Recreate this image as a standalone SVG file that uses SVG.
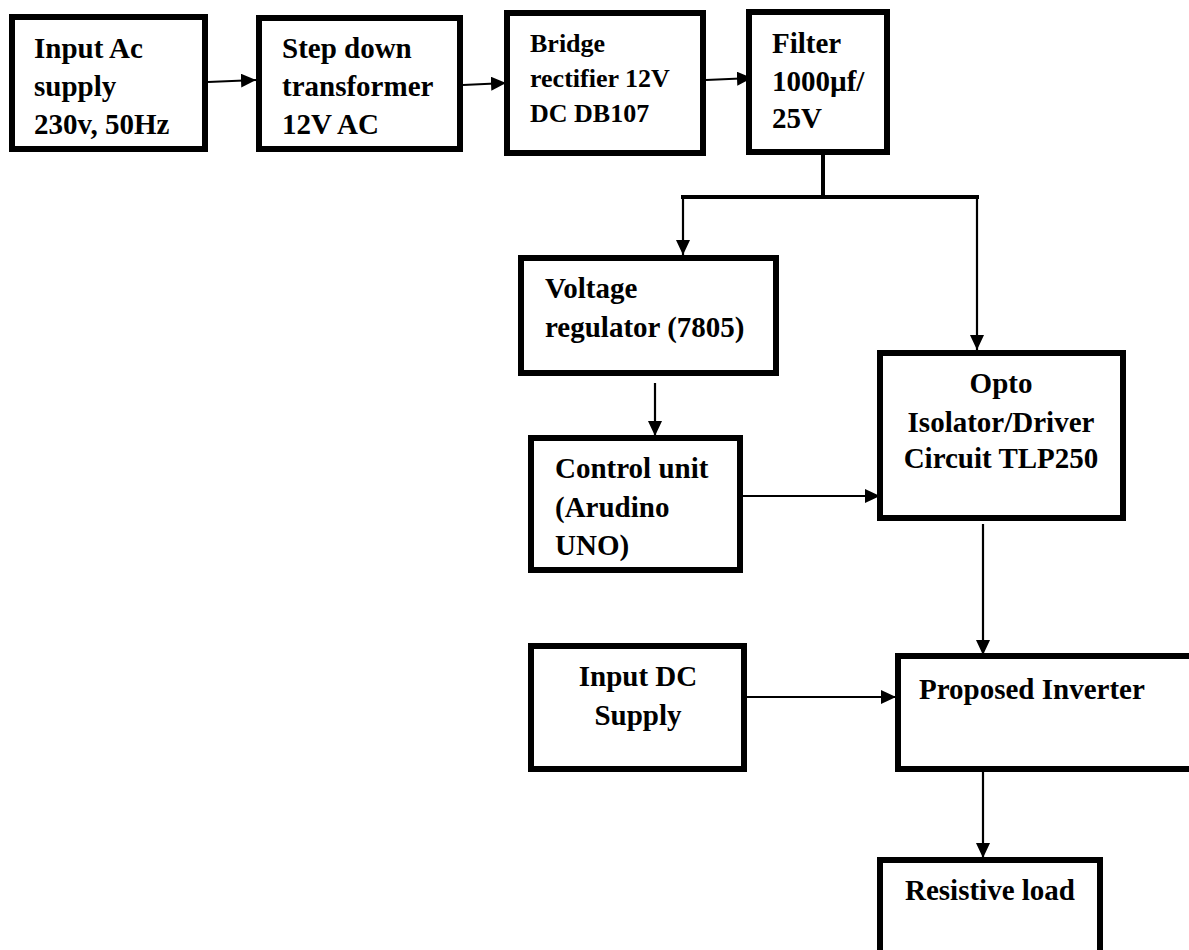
<svg xmlns="http://www.w3.org/2000/svg" width="1189" height="950" viewBox="0 0 1189 950">
  <style>
    .box { fill: #fff; stroke: #000; stroke-width: 6; }
    .lbl { font-family: "Liberation Serif", "Times New Roman", serif; font-weight: bold; font-size: 29px; fill: #000; }
    .sm { font-size: 26px; }
    .mid { text-anchor: middle; }
    .wire { fill: none; stroke: #000; stroke-width: 2.2; }
    .bus { fill: none; stroke: #000; stroke-width: 4; }
    .arr { marker-end: url(#head); }
  </style>
  <defs>
    <marker id="head" markerUnits="userSpaceOnUse" markerWidth="16" markerHeight="14" refX="15" refY="7" orient="auto">
      <path d="M0,0 L15,7 L0,14 Z" fill="#000"/>
    </marker>
  </defs>
  <rect width="1189" height="950" fill="#fff"/>

  <g id="connectors">
    <path class="wire arr" d="M208,82 L256,80"/>
    <path class="wire arr" d="M463,85 L506,83"/>
    <path class="wire arr" d="M706,80 L752,78"/>
    <path class="bus" d="M823,155 L823,197"/>
    <path class="bus" d="M681,197 L979,197"/>
    <path class="wire arr" d="M683,197 L683,255"/>
    <path class="wire arr" d="M977,197 L977,350"/>
    <path class="wire arr" d="M655,383 L655,436"/>
    <path class="wire arr" d="M735,496 L880,496"/>
    <path class="wire arr" d="M983,524 L983,655"/>
    <path class="wire arr" d="M747,697 L896,697"/>
    <path class="wire arr" d="M983,772 L983,858"/>
  </g>

  <g id="ac-supply">
    <rect class="box" x="12" y="17" width="193" height="132"/>
    <text class="lbl" x="34" y="58">Input Ac</text>
    <text class="lbl" x="34" y="96">supply</text>
    <text class="lbl" x="34" y="134">230v, 50Hz</text>
  </g>

  <g id="transformer">
    <rect class="box" x="259" y="18" width="201" height="131"/>
    <text class="lbl" x="282" y="58">Step down</text>
    <text class="lbl" x="282" y="96">transformer</text>
    <text class="lbl" x="282" y="134">12V AC</text>
  </g>

  <g id="rectifier">
    <rect class="box" x="507" y="13" width="196" height="140"/>
    <text class="lbl sm" x="530" y="52">Bridge</text>
    <text class="lbl sm" x="530" y="87">rectifier 12V</text>
    <text class="lbl sm" x="530" y="122">DC DB107</text>
  </g>

  <g id="filter">
    <rect class="box" x="749" y="12" width="138" height="140"/>
    <text class="lbl" x="772" y="53">Filter</text>
    <text class="lbl" x="772" y="91">1000µf/</text>
    <text class="lbl" x="772" y="128">25V</text>
  </g>

  <g id="regulator">
    <rect class="box" x="521" y="258" width="255" height="115"/>
    <text class="lbl" x="545" y="298">Voltage</text>
    <text class="lbl" x="545" y="337">regulator (7805)</text>
  </g>

  <g id="control-unit">
    <rect class="box" x="531" y="438" width="209" height="132"/>
    <text class="lbl" x="555" y="478">Control unit</text>
    <text class="lbl" x="555" y="517">(Arudino</text>
    <text class="lbl" x="555" y="555">UNO)</text>
  </g>

  <g id="opto-driver">
    <rect class="box" x="880" y="353" width="243" height="165"/>
    <text class="lbl mid" x="1001" y="393">Opto</text>
    <text class="lbl mid" x="1001" y="432">Isolator/Driver</text>
    <text class="lbl mid" x="1001" y="468">Circuit TLP250</text>
  </g>

  <g id="dc-supply">
    <rect class="box" x="531" y="646" width="213" height="123"/>
    <text class="lbl mid" x="638" y="686">Input DC</text>
    <text class="lbl mid" x="638" y="725">Supply</text>
  </g>

  <g id="inverter">
    <rect class="box" x="898" y="656" width="300" height="113"/>
    <text class="lbl" x="919" y="699">Proposed Inverter</text>
  </g>

  <g id="load">
    <rect class="box" x="880" y="860" width="220" height="100"/>
    <text class="lbl" x="905" y="900">Resistive load</text>
  </g>
</svg>
